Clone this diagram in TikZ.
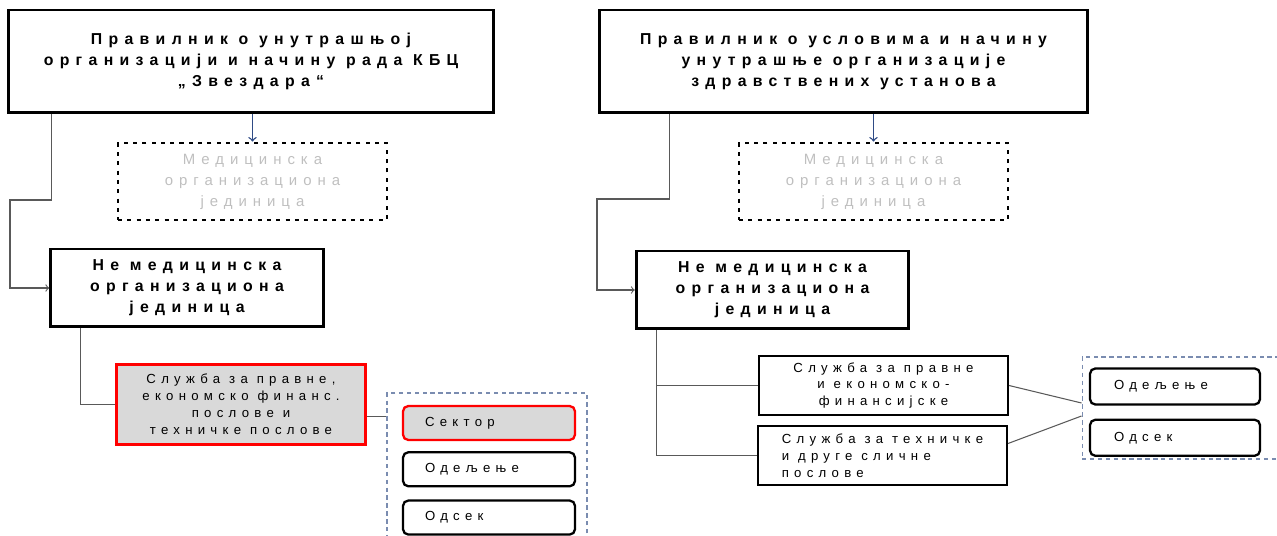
\documentclass[tikz,border=0pt]{standalone}
\usepackage{fontspec}
\newfontfamily\orgfont[LetterSpace=40]{Liberation Sans}
\usetikzlibrary{calc,positioning}
\definecolor{medgray}{HTML}{BFBFBF}
\definecolor{boxgray}{HTML}{D9D9D9}
\definecolor{linkgray}{HTML}{595959}
\definecolor{navyline}{HTML}{2F4B85}
\definecolor{groupblue}{HTML}{7A8CB0}
\tikzset{link/.style={draw=linkgray,line width=0.6pt},navyarrow/.style={draw=navyline,line width=0.8pt}}

\begin{document}
\begin{tikzpicture}[x=0.02cm,y=-0.02cm]

\tikzset{rulenode/.style={font=\orgfont\bfseries\fontsize{9}{12}\selectfont,draw=black,line width=1.7pt,align=center,minimum width=9.72cm,minimum height=2.06cm,inner sep=0pt},
mednode/.style={font=\orgfont\fontsize{8.5}{12}\selectfont,text=medgray,draw=black,line width=1.6pt,dash pattern=on 2.3pt off 3pt,align=center,minimum width=5.38cm,minimum height=1.54cm,inner sep=0pt},
unitnode/.style={font=\orgfont\bfseries\fontsize{9}{12}\selectfont,draw=black,line width=1.7pt,align=center,minimum width=5.45cm,minimum height=1.56cm,inner sep=0pt},
servnode/.style={font=\orgfont\fontsize{7.5}{9.6}\selectfont,draw=black,line width=1.2pt,align=center,minimum width=4.98cm,minimum height=1.18cm,inner sep=0pt},
rednode/.style={servnode,draw=red,fill=boxgray,line width=1.7pt,minimum width=5cm,minimum height=1.62cm},
groupnode/.style={draw=groupblue,line width=0.6pt,dash pattern=on 2.5pt off 2pt,inner sep=0pt},
levelnode/.style={font=\orgfont\fontsize{7.5}{9}\selectfont,draw=black,line width=1.3pt,rounded corners=3pt,text width=2.56cm,align=left,inner xsep=0.44cm,inner ysep=0pt,minimum height=0.68cm}}

\useasboundingbox (0,0) rectangle (1277,536);

% Left: rule book and units
\node[rulenode] (rulesL) at (251,61.5) {Правилник о унутрашњој\\организацији и начину рада КБЦ\\„Звездара“};
\node[mednode] (medL) at (252.5,181.5) {Медицинска\\организациона\\јединица};
\node[unitnode] (nonmedL) at (187,288) {Не медицинска\\организациона\\јединица};
\node[rednode] (servL) at (241,404.5) {Служба за правне,\\економско финанс.\\послове и\\техничке послове};

% Left: levels
\node[groupnode,minimum width=4cm,minimum height=2.92cm] (groupL) at (487,466) {};
\node[levelnode,draw=red,fill=boxgray] (sectL) at (489,423) {Сектор};
\node[levelnode] (deptL) [below=0.2cm of sectL] {Одељење};
\node[levelnode] (secL) [below=0.24cm of deptL] {Одсек};

% Right: rule book and units
\node[rulenode,minimum width=9.78cm] (rulesR) at (843.5,61.5) {Правилник о условима и начину\\унутрашње организације\\здравствених установа};
\node[mednode] (medR) at (873.5,181.5) {Медицинска\\организациона\\јединица};
\node[unitnode] (nonmedR) at (772.5,290) {Не медицинска\\организациона\\јединица};
\node[servnode] (servR1) at (883.5,385.5) {Служба за правне\\и економско-\\финансијске};
\node[servnode,align=left] (servR2) at (882.5,455.5) {Служба за техничке\\и друге сличне\\послове};

% Right: levels
\node[groupnode,minimum width=4.2cm,minimum height=2.04cm] (groupR) at (1187,408) {};
\node[levelnode,text width=2.44cm,inner xsep=0.48cm,minimum height=0.72cm] (deptR) at (1175,386.5) {Одељење};
\node[levelnode,text width=2.44cm,inner xsep=0.48cm,minimum height=0.72cm] (secR) [below=0.26cm of deptR] {Одсек};

% Connectors
\coordinate (kneeL) at (10,200);
\coordinate (kneeR) at (597,199);
\coordinate (servLout) at ($(servL.east)+(0,12)$);
\draw[navyarrow,->] (rulesL.south -| medL.north) -- (medL.north);
\draw[navyarrow,->] (rulesR.south -| medR.north) -- (medR.north);
\draw[link,->] ($(rulesL.south west)+(45,0)$) |- (kneeL) |- (nonmedL.west);
\draw[link] ($(nonmedL.south west)+(31,0)$) |- (servL.west);
\draw[link] (servLout) -- (servLout -| groupL.west);
\draw[link,->] ($(rulesR.south west)+(72,0)$) |- (kneeR) |- (nonmedR.west);
\draw[link] ($(nonmedR.south west)+(22,0)$) |- (servR1.west);
\draw[link] ($(nonmedR.south west)+(22,0)$) |- (servR2.west);
\draw[link] (servR1.east) -- ($(groupR.west)+(0,-5)$);
\draw[link] ($(servR2.east)+(0,-12)$) -- ($(groupR.west)+(0,8)$);

\end{tikzpicture}
\end{document}
